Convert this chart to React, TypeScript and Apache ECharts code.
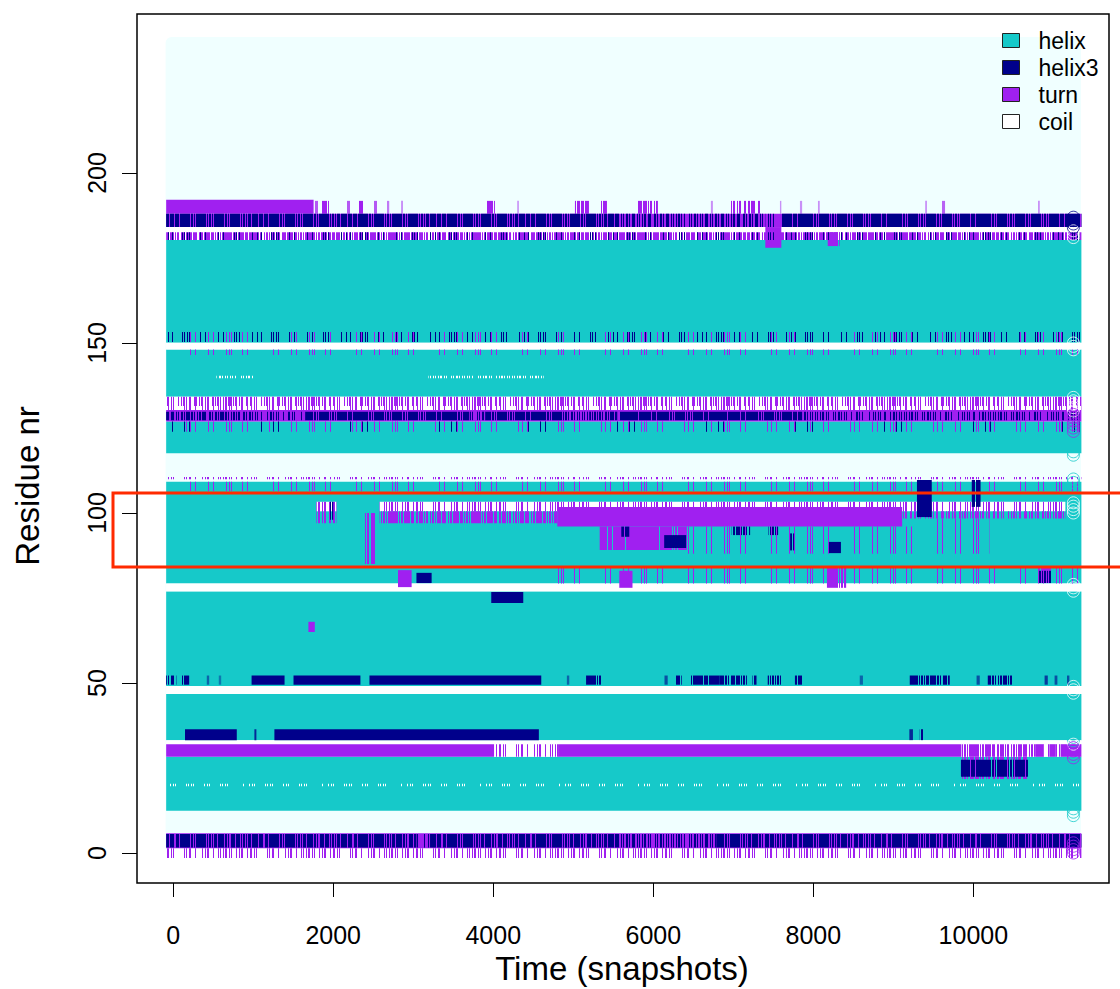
import React, { useEffect, useRef } from 'react';
import * as echarts from 'echarts';

// ---------- axes ----------
const X_MIN = -452;
const X_MAX = 11695;
const Y_MIN = -8.82;
const Y_MAX = 246.76;
const X_TICKS = [0, 2000, 4000, 6000, 8000, 10000];
const Y_TICKS = [0, 50, 100, 150, 200];
const T_END = 11250; // last snapshot

const STATES = ['helix', 'helix3', 'turn', 'coil'];
const COLORS: Record<string, string> = {
  helix: '#16C9C9',
  helix3: '#00008B',
  turn: '#A020F0',
  coil: '#FFFFFF',
};
const REGION_COLOR = '#F0FFFF';

// plotted region of the trajectory [tStart, tEnd, resLow, resHigh, share]
const regionSegs = [[-95, 11345, -1.3, 240, 1]];

// ---------- secondary structure segments [tStart, tEnd, resLow, resHigh, share of frames] ----------
const helixSegs = [
  [0, T_END, 150.1, 180.3, 1],
  [0, T_END, 134.2, 148.1, 1],
  [0, T_END, 117.6, 126.9, 1],
  [0, T_END, 79.3, 109.2, 1],
  [0, T_END, 49.1, 76.9, 1],
  [0, T_END, 33.2, 46.8, 1],
  [0, T_END, 12.4, 28.3, 1],
];

const coilSegs = [
  [0, T_END, 180.3, 184.1, 1],
  [0, T_END, 148.1, 150.1, 1],
  [0, T_END, 130.3, 134.2, 1],
  [540, 1000, 139.6, 140.4, 0.35],
  [3190, 4630, 139.6, 140.4, 0.35],
  [0, T_END, 19.6, 20.4, 0.2],
  [1790, 2040, 100.5, 103.3, 1],
  [2580, 11150, 100.5, 103.3, 1],
  [0, T_END, 77, 79.3, 1],
  [0, T_END, 46.8, 49.1, 1],
  [0, T_END, 32, 33.2, 1],
  [4010, 4810, 28.3, 32, 1],
  [9850, 10780, 28.3, 32, 1],
  [10880, 10950, 28.3, 32, 1],
  [11030, 11090, 28.3, 32, 1],
  [0, T_END, -1.5, 1.4, 1],
];

const turnSegs = [
  // C-terminal turn region
  [0, 1755, 188, 192.1, 1],
  [1772, 1810, 188, 191.8, 0.75],
  [1860, 1947, 188, 191.8, 0.75],
  [2172, 2210, 188, 191.8, 0.75],
  [2322, 2397, 188, 191.8, 0.75],
  [2510, 2547, 188, 191.8, 0.75],
  [2672, 2700, 188, 191.8, 0.6],
  [2850, 2870, 188, 191.8, 0.6],
  [3921, 4021, 188, 191.8, 0.75],
  [4300, 4320, 188, 191.8, 0.5],
  [5021, 5196, 188, 191.8, 0.75],
  [5334, 5421, 188, 191.8, 0.75],
  [5808, 6058, 188, 191.8, 0.6],
  [6720, 6745, 188, 191.8, 0.5],
  [6960, 7335, 188, 191.8, 0.6],
  [7583, 7600, 188, 191.8, 0.5],
  [7833, 7860, 188, 191.8, 0.5],
  [8058, 8080, 188, 191.8, 0.5],
  [9398, 9420, 188, 191.8, 0.5],
  [9608, 9646, 188, 191.8, 0.7],
  [10808, 10830, 188, 191.8, 0.5],
  [0, T_END, 184.1, 188, 1],
  [0, T_END, 180.3, 182.6, 0.75],
  [7400, 7600, 178, 184.1, 1],
  [8180, 8330, 178.5, 182.6, 0.9],
  [0, T_END, 150.3, 153.2, 0.1],
  [0, T_END, 146.5, 148.1, 0.1],
  [0, T_END, 131.5, 134.2, 0.5],
  [0, T_END, 130.3, 131.5, 0.25],
  [0, T_END, 126.9, 130.3, 1],
  [0, T_END, 123.9, 126.9, 0.15],
  [0, T_END, 109.9, 110.6, 0.25],
  [0, T_END, 106.5, 109.2, 0.1],
  // loop around residue 100
  [1790, 2040, 97, 103.3, 0.6],
  [2380, 2540, 85, 100, 0.6],
  [2580, 11150, 100.5, 103.3, 0.35],
  [2580, 4800, 97, 100.5, 0.7],
  [4800, 9110, 96, 101.8, 1],
  [9110, 11150, 98.4, 100.5, 0.5],
  [5330, 6420, 89.1, 96, 0.9],
  [6420, 9300, 88, 96, 0.12],
  [9300, 10200, 88, 98.4, 0.08],
  [2810, 2980, 78.2, 83.2, 1],
  [5575, 5740, 78, 83, 1],
  [8170, 8410, 78, 84, 0.9],
  [10820, 10970, 79.4, 84, 0.9],
  [4800, T_END, 79.3, 84, 0.1],
  [1690, 1770, 65, 68, 1],
  // turn band near residue 30
  [0, 4010, 28.3, 32, 1],
  [4010, 4810, 28.3, 32, 0.35],
  [4810, 9850, 28.3, 32, 1],
  [9850, 10780, 28.3, 32, 0.7],
  [10780, 10880, 28.3, 32, 1],
  [10880, 10950, 28.3, 32, 0.3],
  [10950, 11030, 28.3, 32, 1],
  [11030, 11090, 28.3, 32, 0.3],
  [11090, T_END, 28.3, 32, 1],
  [9845, 10695, 21.8, 28.3, 0.6],
  // N-terminus
  [0, T_END, 1.4, 5.8, 1],
  [0, T_END, -1.5, 1.4, 0.35],
];

const helix3Segs = [
  [0, 5575, 184.1, 188, 0.8],
  [5575, 7400, 184.1, 188, 0.5],
  [7400, 7600, 184.1, 188, 0.15],
  [7600, T_END, 184.1, 188, 0.85],
  [0, T_END, 180.3, 182.6, 0.15],
  [0, T_END, 150.3, 153.2, 0.15],
  [0, 1000, 127.3, 129.8, 0.55],
  [1000, 1650, 127.3, 129.8, 0.3],
  [1650, 3700, 127.3, 129.8, 0.85],
  [3700, 3900, 127.3, 129.8, 0.4],
  [3900, 4950, 127.3, 129.8, 0.85],
  [4950, 5200, 127.3, 129.8, 0.4],
  [5200, 5550, 127.3, 129.8, 0.6],
  [5580, 7860, 127.3, 129.8, 0.9],
  [7860, T_END, 127.3, 129.8, 0.35],
  [0, T_END, 123.9, 126.9, 0.08],
  // around residue 100
  [1950, 2000, 98, 103.3, 0.8],
  [5600, 5700, 93, 96, 0.8],
  [6136, 6411, 89.7, 93.5, 1],
  [6980, 7210, 93.5, 96, 0.6],
  [7440, 7560, 93.5, 96, 0.6],
  [7710, 7760, 89, 94, 0.7],
  [8195, 8345, 88.2, 91.5, 1],
  [9295, 9480, 98.8, 109.7, 1],
  [9980, 10090, 101.8, 109.7, 0.85],
  [3040, 3230, 79.4, 82.4, 1],
  [3975, 4375, 73.5, 76.8, 1],
  [10820, 10970, 79.4, 83, 0.8],
  // residue 50 region
  [0, 40, 49.5, 52.2, 0.5],
  [110, 200, 49.5, 52.2, 0.7],
  [420, 450, 49.5, 52.2, 0.5],
  [570, 600, 49.5, 52.2, 0.4],
  [980, 1392, 49.5, 52.2, 0.95],
  [1504, 2340, 49.5, 52.2, 0.95],
  [2453, 4600, 49.5, 52.2, 0.95],
  [4920, 4950, 49.5, 52.2, 0.5],
  [5160, 5350, 49.5, 52.2, 0.8],
  [6140, 6180, 49.5, 52.2, 0.6],
  [6265, 6355, 49.5, 52.2, 0.7],
  [6465, 6830, 49.5, 52.2, 0.9],
  [6830, 7170, 49.5, 52.2, 0.7],
  [7240, 7290, 49.5, 52.2, 0.6],
  [7430, 7620, 49.5, 52.2, 0.6],
  [7770, 7870, 49.5, 52.2, 0.8],
  [8580, 8620, 49.5, 52.2, 0.5],
  [9205, 9705, 49.5, 52.2, 0.75],
  [10040, 10080, 49.5, 52.2, 0.6],
  [10180, 10490, 49.5, 52.2, 0.6],
  [10890, 10930, 49.5, 52.2, 0.7],
  [11015, 11050, 49.5, 52.2, 0.6],
  [11170, 11200, 49.5, 52.2, 0.6],
  // residue 35 region
  [148, 795, 33.2, 36.4, 0.95],
  [1015, 1040, 33.2, 36.4, 0.8],
  [1265, 4570, 33.2, 36.4, 0.95],
  [9200, 9245, 33.2, 36.4, 0.8],
  [9330, 9380, 33.2, 36.4, 0.8],
  [9845, 10695, 22.4, 27.4, 0.85],
  // N-terminus
  [0, 3040, 1.6, 5.6, 0.75],
  [3040, 3210, 1.6, 5.6, 0.3],
  [3210, 5575, 1.6, 5.6, 0.75],
  [5575, 6790, 1.6, 5.6, 0.45],
  [6790, T_END, 1.6, 5.6, 0.75],
];

// state of the last snapshot for residues whose end marker is visible
const endHelix = [11, 12, 13, 33, 34, 35, 109, 110, 117, 118];
const endHelix3 = [184, 185, 186, 187];
const endTurn = [0, 1, 2, 3, 28, 29, 30, 31, 124, 125, 126, 127, 128, 129];
const endCoil = [32, 47, 48, 49, 77, 78, 79, 100, 101, 102, 103, 130, 131, 132, 133, 134, 148, 149, 150, 181, 182, 183];

const FONT = '"Liberation Sans", Arial, Helvetica, sans-serif';

// texture: partially occupied cells are drawn as thin per-frame streaks
const patternCache: Record<string, any> = {};
function streakFill(color: string, share: number, width: number, phase: number) {
  const key = color + '|' + share.toFixed(3);
  if (!patternCache[key]) {
    const c = document.createElement('canvas');
    c.width = width;
    c.height = 2;
    const ctx = c.getContext('2d')!;
    ctx.fillStyle = color;
    for (let i = 0; i < width; i++) {
      const v = (i * 0.6180339887 + 0.5 * ((Math.floor(i / 2) * 0.4142135624) % 1) + phase) % 1;
      if (v < share) ctx.fillRect(i, 0, 1, 2);
    }
    patternCache[key] = { image: c, repeat: 'repeat', imageWidth: width, imageHeight: 2 };
  }
  return patternCache[key];
}

export default function App() {
  const ref = useRef<HTMLDivElement>(null);

  useEffect(() => {
    if (!ref.current) return;
    const chart = echarts.init(ref.current, null, { renderer: 'svg' });

    const mkRender = (color: string, pad: boolean, radius: number, tile: number, phase: number) => (_p: any, api: any) => {
      const t0 = api.value(0);
      const t1 = api.value(1);
      const r0 = api.value(2);
      const r1 = api.value(3);
      const share = api.value(4);
      const a = api.coord([t0, r1]);
      const b = api.coord([t1, r0]);
      let x0 = a[0];
      let x1 = b[0];
      if (pad) {
        if (t0 <= 0) x0 -= 7;
        if (t1 >= T_END) x1 += 8;
      }
      const w = Math.max(x1 - x0, 1.2);
      const fill = share >= 0.95 || w < 4 ? color : streakFill(color, share, tile, phase);
      const opacity = share >= 0.95 ? 1 : w < 4 ? share : 1;
      return {
        type: 'rect',
        shape: { x: x0, y: a[1], width: w, height: b[1] - a[1], r: radius },
        style: { fill, opacity },
      };
    };

    const segSeries = (name: string, data: number[][], color: string, tile: number, phase: number, pad = true, radius = 0) => ({
      type: 'custom',
      name,
      data,
      renderItem: mkRender(color, pad, radius, tile, phase),
      encode: { x: [0, 1], y: [2, 3] },
      itemStyle: { color },
      silent: true,
      animation: false,
    });

    const endData: any[] = [];
    const pushEnds = (list: number[], state: string) =>
      list.forEach((r) =>
        endData.push({ value: [T_END, r], itemStyle: { borderColor: state === 'coil' ? '#FFFFFF' : COLORS[state] } })
      );
    pushEnds(endHelix, 'helix');
    pushEnds(endCoil, 'coil');
    pushEnds(endTurn, 'turn');
    pushEnds(endHelix3, 'helix3');

    chart.setOption({
      animation: false,
      backgroundColor: '#ffffff',
      grid: {
        left: 137,
        top: 14,
        width: 972,
        height: 869,
        show: true,
        borderColor: '#000',
        borderWidth: 1.5,
        backgroundColor: 'transparent',
      },
      xAxis: {
        type: 'value',
        min: X_MIN,
        max: X_MAX,
        axisLine: { show: false, onZero: false },
        splitLine: { show: false },
        axisTick: { show: true, inside: false, customValues: X_TICKS, length: 14, lineStyle: { color: '#000', width: 1 } },
        axisLabel: {
          customValues: X_TICKS,
          margin: 39,
          fontSize: 25,
          color: '#000',
          fontFamily: FONT,
          formatter: (v: number) => String(v),
        },
      },
      yAxis: {
        type: 'value',
        min: Y_MIN,
        max: Y_MAX,
        axisLine: { show: false, onZero: false },
        splitLine: { show: false },
        axisTick: { show: true, inside: false, customValues: Y_TICKS, length: 15, lineStyle: { color: '#000', width: 1 } },
        axisLabel: {
          customValues: Y_TICKS,
          rotate: 90,
          margin: 28,
          fontSize: 25,
          color: '#000',
          fontFamily: FONT,
          formatter: (v: number) => String(v),
        },
      },
      legend: {
        orient: 'vertical',
        left: 1002,
        top: 27,
        padding: 0,
        itemWidth: 17,
        itemHeight: 14,
        itemGap: 0,
        icon: 'rect',
        selectedMode: false,
        data: STATES.map((s) => ({ name: s })),
        itemStyle: { borderColor: '#222', borderWidth: 1 },
        textStyle: { fontSize: 23, color: '#000', fontFamily: FONT, lineHeight: 27, padding: [0, 0, 0, 14] },
      },
      series: [
        segSeries('region', regionSegs, REGION_COLOR, 97, 0, false, 6),
        segSeries('helix', helixSegs, COLORS.helix, 97, 0.11),
        segSeries('coil', coilSegs, COLORS.coil, 79, 0.37),
        segSeries('turn', turnSegs, COLORS.turn, 83, 0.71),
        segSeries('helix3', helix3Segs, COLORS.helix3, 89, 0.23),
        {
          type: 'scatter',
          name: 'last snapshot',
          data: endData,
          symbol: 'circle',
          symbolSize: 12,
          itemStyle: { color: 'rgba(0,0,0,0)', borderWidth: 1 },
          silent: true,
        },
      ],
      graphic: [
        {
          type: 'text',
          x: 173,
          y: 60,
          style: { text: 'Mutant', font: `35px ${FONT}`, fill: '#000', align: 'left', verticalAlign: 'middle', textAlign: 'left', textVerticalAlign: 'middle' },
        },
        {
          type: 'text',
          x: 622,
          y: 968,
          style: { text: 'Time (snapshots)', font: `33px ${FONT}`, fill: '#000', align: 'center', verticalAlign: 'middle', textAlign: 'center', textVerticalAlign: 'middle' },
        },
        {
          type: 'text',
          x: 27,
          y: 486,
          rotation: Math.PI / 2,
          style: { text: 'Residue nr', font: `33px ${FONT}`, fill: '#000', align: 'center', verticalAlign: 'middle', textAlign: 'center', textVerticalAlign: 'middle' },
        },
        {
          type: 'rect',
          shape: { x: 113, y: 493, width: 1030, height: 74 },
          style: { fill: 'none', stroke: '#FF2A00', lineWidth: 3 },
          z: 100,
        },
      ],
    });

    return () => chart.dispose();
  }, []);

  return <div ref={ref} style={{ position: 'fixed', left: 0, top: 0, width: 1120, height: 989 }} />;
}
